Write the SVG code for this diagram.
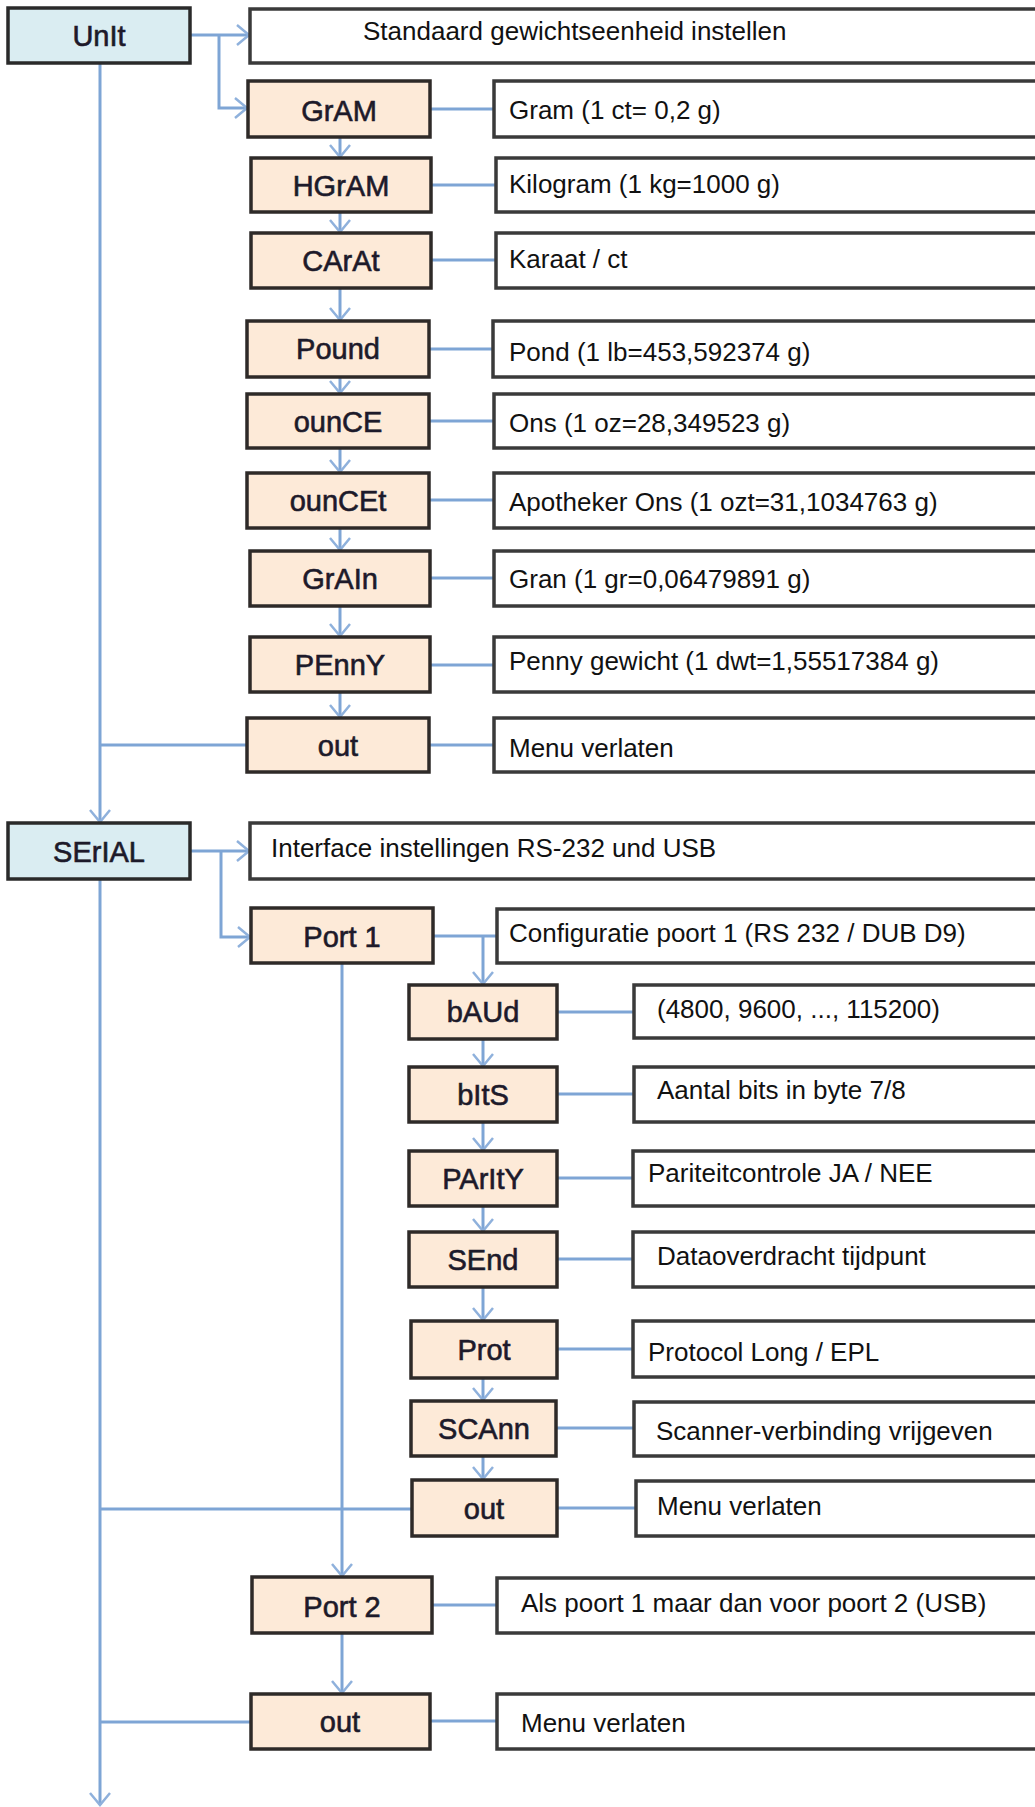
<svg xmlns="http://www.w3.org/2000/svg" width="1035" height="1807" viewBox="0 0 1035 1807">
<style>
.node{fill:#fdead8;stroke:#2e2a28;stroke-width:3.5}
.top{fill:#daedf2;stroke:#2a2a2a;stroke-width:3.5}
.desc{fill:#ffffff;stroke:#3a3a3a;stroke-width:3.5}
.lbl{font-family:"Liberation Sans",Arial,sans-serif;font-size:29px;fill:#1d1a2a;text-anchor:middle;stroke:#1d1a2a;stroke-width:0.6}
.txt{font-family:"Liberation Sans",Arial,sans-serif;font-size:26px;fill:#111111}
.con{fill:none;stroke:#7ea5d5;stroke-width:3}
</style>
<defs>
<marker id="ah" viewBox="-14 -12 16 24" markerWidth="16" markerHeight="24" refX="0" refY="0" orient="auto" markerUnits="userSpaceOnUse">
<path d="M-12,-10 L0,0 L-12,10" fill="none" stroke="#8fb1dc" stroke-width="2.5"/>
</marker>
</defs>
<g id="connectors">
<path class="con" d="M190,35 H249" marker-end="url(#ah)"/>
<path class="con" d="M219,35 V108 H247" marker-end="url(#ah)"/>
<path class="con" d="M100,63 V822" marker-end="url(#ah)"/>
<path class="con" d="M100,745 H247"/>
<path class="con" d="M340,137 V157" marker-end="url(#ah)"/>
<path class="con" d="M340,212 V232" marker-end="url(#ah)"/>
<path class="con" d="M340,288 V320" marker-end="url(#ah)"/>
<path class="con" d="M340,377 V393" marker-end="url(#ah)"/>
<path class="con" d="M340,448 V472" marker-end="url(#ah)"/>
<path class="con" d="M340,528 V550" marker-end="url(#ah)"/>
<path class="con" d="M340,606 V636" marker-end="url(#ah)"/>
<path class="con" d="M340,692 V717" marker-end="url(#ah)"/>
<path class="con" d="M430,109 H494"/>
<path class="con" d="M431,185 H496"/>
<path class="con" d="M431,260 H496"/>
<path class="con" d="M429,349 H493"/>
<path class="con" d="M429,421 H494"/>
<path class="con" d="M429,500 H494"/>
<path class="con" d="M429,578 H494"/>
<path class="con" d="M429,665 H494"/>
<path class="con" d="M429,745 H494"/>
<path class="con" d="M190,851 H249" marker-end="url(#ah)"/>
<path class="con" d="M221,851 V937 H250" marker-end="url(#ah)"/>
<path class="con" d="M100,879 V1805" marker-end="url(#ah)"/>
<path class="con" d="M433,936 H497"/>
<path class="con" d="M483,936 V984" marker-end="url(#ah)"/>
<path class="con" d="M342,963 V1576" marker-end="url(#ah)"/>
<path class="con" d="M483,1039 V1066" marker-end="url(#ah)"/>
<path class="con" d="M483,1122 V1150" marker-end="url(#ah)"/>
<path class="con" d="M483,1206 V1231" marker-end="url(#ah)"/>
<path class="con" d="M483,1287 V1320" marker-end="url(#ah)"/>
<path class="con" d="M483,1378 V1400" marker-end="url(#ah)"/>
<path class="con" d="M483,1456 V1479" marker-end="url(#ah)"/>
<path class="con" d="M557,1012 H634"/>
<path class="con" d="M557,1094 H634"/>
<path class="con" d="M557,1178 H633"/>
<path class="con" d="M557,1259 H633"/>
<path class="con" d="M557,1349 H633"/>
<path class="con" d="M557,1428 H634"/>
<path class="con" d="M557,1508 H636"/>
<path class="con" d="M100,1509 H412"/>
<path class="con" d="M432,1605 H497"/>
<path class="con" d="M342,1633 V1693" marker-end="url(#ah)"/>
<path class="con" d="M100,1722 H251"/>
<path class="con" d="M430,1721 H497"/>
</g>
<g id="n-unit"><rect class="top" x="8" y="8" width="182" height="55"/><text class="lbl" x="99" y="46">UnIt</text></g>
<g id="d-unit"><rect class="desc" x="250" y="9" width="800" height="54"/><text class="txt" x="363" y="40">Standaard gewichtseenheid instellen</text></g>
<g id="n-gram"><rect class="node" x="248" y="81" width="182" height="56"/><text class="lbl" x="339" y="121">GrAM</text></g>
<g id="d-gram"><rect class="desc" x="494" y="81" width="560" height="56"/><text class="txt" x="509" y="119">Gram (1 ct= 0,2 g)</text></g>
<g id="n-hgram"><rect class="node" x="251" y="158" width="180" height="54"/><text class="lbl" x="341" y="196">HGrAM</text></g>
<g id="d-hgram"><rect class="desc" x="496" y="158" width="560" height="54"/><text class="txt" x="509" y="193">Kilogram (1 kg=1000 g)</text></g>
<g id="n-carat"><rect class="node" x="251" y="233" width="180" height="55"/><text class="lbl" x="341" y="271">CArAt</text></g>
<g id="d-carat"><rect class="desc" x="496" y="233" width="560" height="55"/><text class="txt" x="509" y="268">Karaat / ct</text></g>
<g id="n-pound"><rect class="node" x="247" y="321" width="182" height="56"/><text class="lbl" x="338" y="359">Pound</text></g>
<g id="d-pound"><rect class="desc" x="493" y="321" width="560" height="56"/><text class="txt" x="509" y="361">Pond (1 lb=453,592374 g)</text></g>
<g id="n-ounce"><rect class="node" x="247" y="394" width="182" height="54"/><text class="lbl" x="338" y="432">ounCE</text></g>
<g id="d-ounce"><rect class="desc" x="494" y="394" width="560" height="54"/><text class="txt" x="509" y="432">Ons (1 oz=28,349523 g)</text></g>
<g id="n-ouncet"><rect class="node" x="247" y="473" width="182" height="55"/><text class="lbl" x="338" y="511">ounCEt</text></g>
<g id="d-ouncet"><rect class="desc" x="494" y="473" width="560" height="55"/><text class="txt" x="509" y="511">Apotheker Ons (1 ozt=31,1034763 g)</text></g>
<g id="n-grain"><rect class="node" x="250" y="551" width="180" height="55"/><text class="lbl" x="340" y="589">GrAIn</text></g>
<g id="d-grain"><rect class="desc" x="494" y="551" width="560" height="55"/><text class="txt" x="509" y="588">Gran (1 gr=0,06479891 g)</text></g>
<g id="n-penny"><rect class="node" x="250" y="637" width="180" height="55"/><text class="lbl" x="340" y="675">PEnnY</text></g>
<g id="d-penny"><rect class="desc" x="494" y="637" width="560" height="55"/><text class="txt" x="509" y="670">Penny gewicht (1 dwt=1,55517384 g)</text></g>
<g id="n-out1"><rect class="node" x="247" y="718" width="182" height="54"/><text class="lbl" x="338" y="756">out</text></g>
<g id="d-out1"><rect class="desc" x="494" y="718" width="560" height="54"/><text class="txt" x="509" y="757">Menu verlaten</text></g>
<g id="n-serial"><rect class="top" x="8" y="823" width="182" height="56"/><text class="lbl" x="99" y="862">SErIAL</text></g>
<g id="d-serial"><rect class="desc" x="250" y="823" width="800" height="56"/><text class="txt" x="271" y="857">Interface instellingen RS-232 und USB</text></g>
<g id="n-port1"><rect class="node" x="251" y="908" width="182" height="55"/><text class="lbl" x="342" y="947">Port 1</text></g>
<g id="d-port1"><rect class="desc" x="497" y="909" width="560" height="54"/><text class="txt" x="509" y="942">Configuratie poort 1 (RS 232 / DUB D9)</text></g>
<g id="n-baud"><rect class="node" x="409" y="985" width="148" height="54"/><text class="lbl" x="483" y="1022">bAUd</text></g>
<g id="d-baud"><rect class="desc" x="634" y="985" width="420" height="53"/><text class="txt" x="657" y="1018">(4800, 9600, ..., 115200)</text></g>
<g id="n-bits"><rect class="node" x="409" y="1067" width="148" height="55"/><text class="lbl" x="483" y="1105">bItS</text></g>
<g id="d-bits"><rect class="desc" x="634" y="1067" width="420" height="55"/><text class="txt" x="657" y="1099">Aantal bits in byte 7/8</text></g>
<g id="n-parity"><rect class="node" x="409" y="1151" width="148" height="55"/><text class="lbl" x="483" y="1189">PArItY</text></g>
<g id="d-parity"><rect class="desc" x="633" y="1151" width="420" height="55"/><text class="txt" x="648" y="1182">Pariteitcontrole JA / NEE</text></g>
<g id="n-send"><rect class="node" x="409" y="1232" width="148" height="55"/><text class="lbl" x="483" y="1270">SEnd</text></g>
<g id="d-send"><rect class="desc" x="633" y="1232" width="420" height="55"/><text class="txt" x="657" y="1265">Dataoverdracht tijdpunt</text></g>
<g id="n-prot"><rect class="node" x="411" y="1321" width="146" height="57"/><text class="lbl" x="484" y="1360">Prot</text></g>
<g id="d-prot"><rect class="desc" x="633" y="1321" width="420" height="56"/><text class="txt" x="648" y="1361">Protocol Long / EPL</text></g>
<g id="n-scann"><rect class="node" x="411" y="1401" width="145" height="55"/><text class="lbl" x="484" y="1439">SCAnn</text></g>
<g id="d-scann"><rect class="desc" x="634" y="1402" width="420" height="54"/><text class="txt" x="656" y="1440">Scanner-verbinding vrijgeven</text></g>
<g id="n-out2"><rect class="node" x="412" y="1480" width="145" height="56"/><text class="lbl" x="484" y="1519">out</text></g>
<g id="d-out2"><rect class="desc" x="636" y="1481" width="420" height="55"/><text class="txt" x="657" y="1515">Menu verlaten</text></g>
<g id="n-port2"><rect class="node" x="252" y="1577" width="180" height="56"/><text class="lbl" x="342" y="1617">Port 2</text></g>
<g id="d-port2"><rect class="desc" x="497" y="1578" width="560" height="55"/><text class="txt" x="521" y="1612">Als poort 1 maar dan voor poort 2 (USB)</text></g>
<g id="n-out3"><rect class="node" x="251" y="1694" width="179" height="55"/><text class="lbl" x="340" y="1732">out</text></g>
<g id="d-out3"><rect class="desc" x="497" y="1694" width="560" height="55"/><text class="txt" x="521" y="1732">Menu verlaten</text></g>
</svg>
